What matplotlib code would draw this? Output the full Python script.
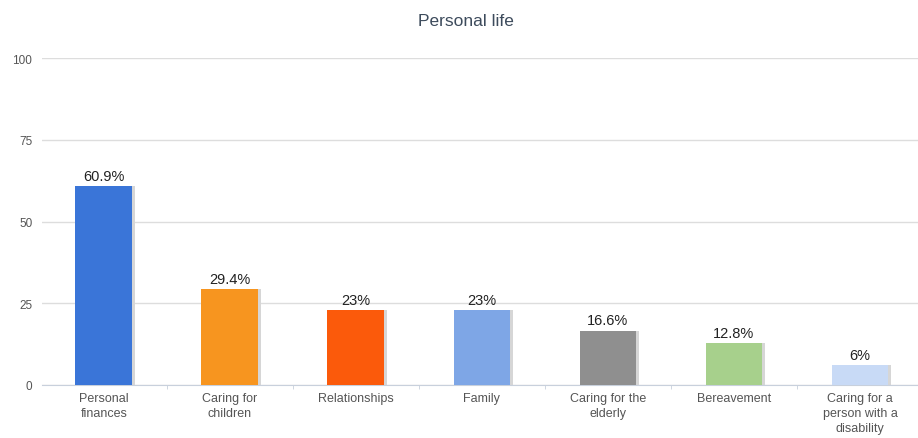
import numpy as np
import matplotlib.pyplot as plt

plt.rcParams['font.family'] = ['Liberation Sans', 'DejaVu Sans']

categories = ["Personal\nfinances", "Caring for\nchildren", "Relationships", "Family",
              "Caring for the\nelderly", "Bereavement", "Caring for a\nperson with a\ndisability"]
values = [60.9, 29.4, 23, 23, 16.6, 12.8, 6]
labels = ["60.9%", "29.4%", "23%", "23%", "16.6%", "12.8%", "6%"]
colors = ["#3a75d8", "#f7951f", "#fb5a0b", "#7ea6e6", "#8f8f8f", "#a7d08c", "#c8daf6"]

fig = plt.figure(figsize=(9.18, 4.39), dpi=100)
ax = fig.add_axes([42 / 918, 53 / 439, 876 / 918, 327 / 439])

x = np.arange(len(values))
# soft shadow on the right edge of each bar
ax.bar(x + 0.02, values, width=0.45, color="#d6d6d6", zorder=2)
ax.bar(x, values, width=0.45, color=colors, zorder=3)

for xi, v, lab in zip(x, values, labels):
    ax.text(xi, v + 1.0, lab, ha="center", va="bottom", fontsize=10.5, color="#222222")

ax.set_xlim(-0.49, 6.46)
ax.set_ylim(0, 100)
ax.set_yticks([0, 25, 50, 75, 100])
ax.yaxis.grid(True, color="#dddddd", linewidth=1, zorder=0)
ax.set_xticks(x)
ax.set_xticklabels(categories, fontsize=9, color="#555555", linespacing=1.35)
ax.set_xticks(np.arange(0.5, 6.5, 1), minor=True)
ax.tick_params(axis="x", which="major", length=0, pad=5)
ax.tick_params(axis="x", which="minor", length=3, color="#c8d0dc")
ax.tick_params(axis="y", length=0, labelsize=8.5, labelcolor="#555555", pad=7)

for s in ["top", "right", "left"]:
    ax.spines[s].set_visible(False)
ax.spines["bottom"].set_color("#c8d0dc")

fig.text(466 / 918, 1 - 22 / 439, "Personal life", ha="center", va="center",
         fontsize=12.5, color="#3d4b5c")

fig.savefig("out.png", dpi=100)
